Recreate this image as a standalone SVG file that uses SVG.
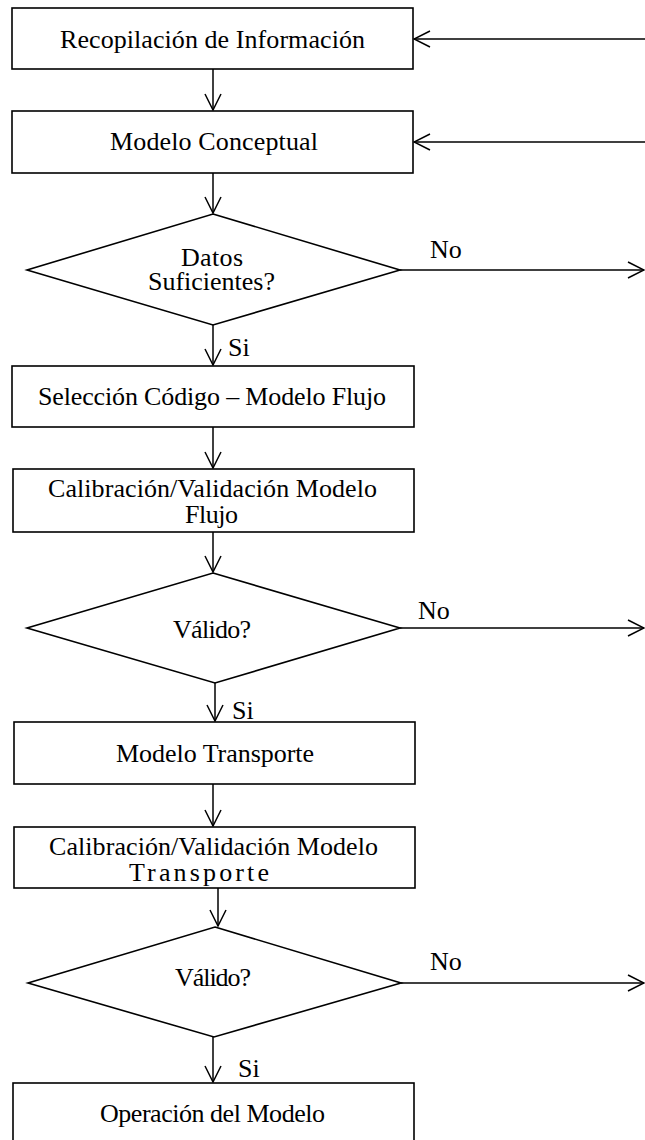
<svg xmlns="http://www.w3.org/2000/svg" width="645" height="1140" viewBox="0 0 645 1140">
<style>
.box{fill:#fff;stroke:#000;stroke-width:1.6}
.t{font-family:"Liberation Serif","Times New Roman",serif;font-size:26px;fill:#000}
.c{stroke:#000;stroke-width:1.5;fill:none}
</style>
<defs>
<marker id="ah" viewBox="0 0 18 18" refX="17" refY="9" markerWidth="18" markerHeight="18" markerUnits="userSpaceOnUse" orient="auto">
<path d="M1,1 L17,9 L1,17" fill="none" stroke="#000" stroke-width="1.5"/>
</marker>
</defs>
<rect width="645" height="1140" fill="#fff"/>
<g id="connectors">
<line class="c" x1="645" y1="39" x2="414" y2="39" marker-end="url(#ah)"/>
<line class="c" x1="645" y1="142" x2="414" y2="142" marker-end="url(#ah)"/>
<line class="c" x1="213" y1="69" x2="213" y2="110" marker-end="url(#ah)"/>
<line class="c" x1="213" y1="173" x2="213" y2="213" marker-end="url(#ah)"/>
<line class="c" x1="400" y1="270" x2="644" y2="270" marker-end="url(#ah)"/>
<line class="c" x1="213" y1="325" x2="213" y2="365" marker-end="url(#ah)"/>
<line class="c" x1="213" y1="427" x2="213" y2="468" marker-end="url(#ah)"/>
<line class="c" x1="213" y1="532" x2="213" y2="572" marker-end="url(#ah)"/>
<line class="c" x1="400" y1="628" x2="644" y2="628" marker-end="url(#ah)"/>
<line class="c" x1="215" y1="683" x2="215" y2="721" marker-end="url(#ah)"/>
<line class="c" x1="213" y1="784" x2="213" y2="826" marker-end="url(#ah)"/>
<line class="c" x1="218" y1="888" x2="218" y2="926" marker-end="url(#ah)"/>
<line class="c" x1="401" y1="983" x2="644" y2="983" marker-end="url(#ah)"/>
<line class="c" x1="213" y1="1037" x2="213" y2="1082" marker-end="url(#ah)"/>
<text class="t" x="430" y="258">No</text>
<text class="t" x="228" y="356">Si</text>
<text class="t" x="418" y="619">No</text>
<text class="t" x="232" y="719">Si</text>
<text class="t" x="430" y="970">No</text>
<text class="t" x="238" y="1077">Si</text>
</g>
<g id="n1">
<rect class="box" x="12" y="8" width="401" height="61"/>
<text class="t" x="60" y="48" textLength="305" lengthAdjust="spacing">Recopilación de Información</text>
</g>
<g id="n2">
<rect class="box" x="12" y="111" width="401" height="62"/>
<text class="t" x="110" y="150" textLength="208" lengthAdjust="spacing">Modelo Conceptual</text>
</g>
<g id="d1">
<polygon class="box" points="213,214 400,270 213,325 27,270"/>
<text class="t" x="181" y="266" textLength="62" lengthAdjust="spacing">Datos</text>
<text class="t" x="148" y="290" textLength="127" lengthAdjust="spacing">Suficientes?</text>
</g>
<g id="n3">
<rect class="box" x="12" y="366" width="402" height="61"/>
<text class="t" x="38" y="405" textLength="348" lengthAdjust="spacing">Selección Código – Modelo Flujo</text>
</g>
<g id="n4">
<rect class="box" x="13" y="469" width="401" height="63"/>
<text class="t" x="48" y="497" textLength="329" lengthAdjust="spacing">Calibración/Validación Modelo</text>
<text class="t" x="185" y="523" textLength="53" lengthAdjust="spacing">Flujo</text>
</g>
<g id="d2">
<polygon class="box" points="213,573 400,628 215,683 27,628"/>
<text class="t" x="173" y="638" textLength="78" lengthAdjust="spacing">Válido?</text>
</g>
<g id="n5">
<rect class="box" x="14" y="722" width="401" height="62"/>
<text class="t" x="116" y="762" textLength="198" lengthAdjust="spacing">Modelo Transporte</text>
</g>
<g id="n6">
<rect class="box" x="14" y="827" width="401" height="61"/>
<text class="t" x="49" y="855" textLength="329" lengthAdjust="spacing">Calibración/Validación Modelo</text>
<text class="t" x="129" y="881" textLength="140" lengthAdjust="spacing">Transporte</text>
</g>
<g id="d3">
<polygon class="box" points="215,927 401,983 214,1037 28,983"/>
<text class="t" x="175" y="986" textLength="76" lengthAdjust="spacing">Válido?</text>
</g>
<g id="n7">
<rect class="box" x="13" y="1083" width="401" height="70"/>
<text class="t" x="100" y="1122" textLength="225" lengthAdjust="spacing">Operación del Modelo</text>
</g>
</svg>
